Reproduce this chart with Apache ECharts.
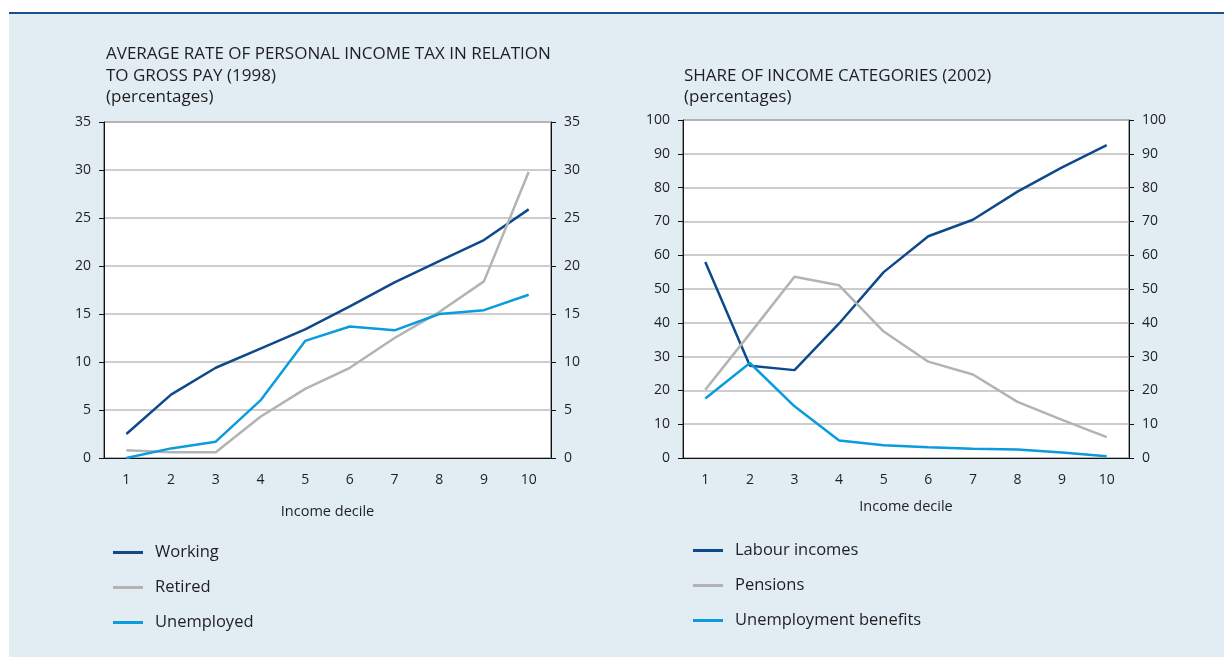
<!DOCTYPE html>
<html>
<head>
<meta charset="utf-8">
<script src="https://cdn.jsdelivr.net/npm/echarts@6/dist/echarts.min.js"></script>
<style>
  html, body { margin: 0; padding: 0; background: #fff; }
  #main { width: 1224px; height: 657px; }
</style>
</head>
<body>
<div id="main"></div>
<script>
// income deciles
var deciles = ['1', '2', '3', '4', '5', '6', '7', '8', '9', '10'];

// left panel: average income tax rate (1998), %
var working    = [2.5, 6.6, 9.4, 11.4, 13.4, 15.8, 18.3, 20.5, 22.7, 25.9];
var retired    = [0.8, 0.6, 0.6, 4.3, 7.2, 9.4, 12.5, 15.2, 18.4, 29.8];
var unemployed = [0.0, 1.0, 1.7, 6.0, 12.2, 13.7, 13.3, 15.0, 15.4, 17.0];

// right panel: share of income categories (2002), %
var labour   = [58.0, 27.3, 26.0, 39.8, 55.0, 65.6, 70.5, 78.8, 86.0, 92.6];
var pensions = [20.2, 36.8, 53.6, 51.1, 37.4, 28.5, 24.7, 16.6, 11.3, 6.2];
var benefits = [17.6, 28.1, 15.3, 5.2, 3.8, 3.2, 2.7, 2.5, 1.6, 0.5];

var DARK = '#0e4a8b', GREY = '#b3b3b3', LIGHT = '#0a9cdc';
var FONT = 'Open Sans';
var TXT = '#1f1f1f';

var myChart = echarts.init(document.getElementById('main'));

function xAxis(grid, gap) {
  return {
    type: 'category', gridIndex: grid, data: deciles, boundaryGap: true,
    axisLine: { lineStyle: { color: '#111', width: 1 } },
    axisTick: { inside: true, length: 6, lineStyle: { color: '#111' } },
    axisLabel: { margin: 15, fontSize: 14, color: TXT, fontFamily: FONT },
    name: 'Income decile', nameLocation: 'middle', nameGap: gap,
    nameTextStyle: { fontSize: 14.5, color: TXT, fontFamily: FONT }
  };
}

function yAxis(grid, max, interval, pos, split) {
  return {
    type: 'value', gridIndex: grid, min: 0, max: max, interval: interval, position: pos,
    axisLine: { show: true, lineStyle: { color: '#111', width: 1 } },
    axisTick: { show: true, length: 5, lineStyle: { color: '#111' } },
    axisLabel: { margin: 13, fontSize: 14, color: TXT, fontFamily: FONT },
    splitLine: { show: split, lineStyle: { color: '#bdbdbd', width: 1.5 } }
  };
}

function line(name, data, color, xi, yi) {
  return {
    name: name, type: 'line', data: data, xAxisIndex: xi, yAxisIndex: yi,
    symbol: 'none', lineStyle: { color: color, width: 2.5 }, itemStyle: { color: color },
    animation: false
  };
}

function title(x, y, text) {
  return { type: 'text', left: x, top: y, z: 10,
    style: { text: text, fontSize: 17, fill: TXT, fontFamily: FONT } };
}

myChart.setOption({
  backgroundColor: '#fff',
  animation: false,
  graphic: [
    { type: 'rect', shape: { x: 9, y: 14, width: 1215, height: 643 }, style: { fill: '#e1ecf3' }, z: -10 },
    { type: 'rect', shape: { x: 9, y: 12, width: 1215, height: 2 }, style: { fill: '#1b4e8a' }, z: -10 },
    title(106, 46, 'AVERAGE RATE OF PERSONAL INCOME TAX IN RELATION'),
    title(106, 68, 'TO GROSS PAY (1998)'),
    title(106, 89, '(percentages)'),
    title(684, 68, 'SHARE OF INCOME CATEGORIES (2002)'),
    title(684, 89, '(percentages)')
  ],
  grid: [
    { left: 104, top: 122, width: 447, height: 336, show: true, backgroundColor: '#fff', borderColor: '#444', borderWidth: 1 },
    { left: 683, top: 120, width: 446, height: 338, show: true, backgroundColor: '#fff', borderColor: '#444', borderWidth: 1 }
  ],
  xAxis: [xAxis(0, 46), xAxis(1, 41)],
  yAxis: [
    yAxis(0, 35, 5, 'left', true), yAxis(0, 35, 5, 'right', false),
    yAxis(1, 100, 10, 'left', true), yAxis(1, 100, 10, 'right', false)
  ],
  legend: [
    {
      data: ['Working', 'Retired', 'Unemployed'], orient: 'vertical', left: 108, top: 539,
      icon: 'rect', itemWidth: 30, itemHeight: 3, itemGap: 18, selectedMode: false,
      textStyle: { fontSize: 16.5, color: TXT, fontFamily: FONT, padding: [0, 0, 0, 7] }
    },
    {
      data: ['Labour incomes', 'Pensions', 'Unemployment benefits'], orient: 'vertical', left: 688, top: 537,
      icon: 'rect', itemWidth: 30, itemHeight: 3, itemGap: 18, selectedMode: false,
      textStyle: { fontSize: 16.5, color: TXT, fontFamily: FONT, padding: [0, 0, 0, 7] }
    }
  ],
  series: [
    line('Working', working, DARK, 0, 0),
    line('Retired', retired, GREY, 0, 0),
    line('Unemployed', unemployed, LIGHT, 0, 0),
    line('Labour incomes', labour, DARK, 1, 2),
    line('Pensions', pensions, GREY, 1, 2),
    line('Unemployment benefits', benefits, LIGHT, 1, 2)
  ]
});
</script>
</body>
</html>
